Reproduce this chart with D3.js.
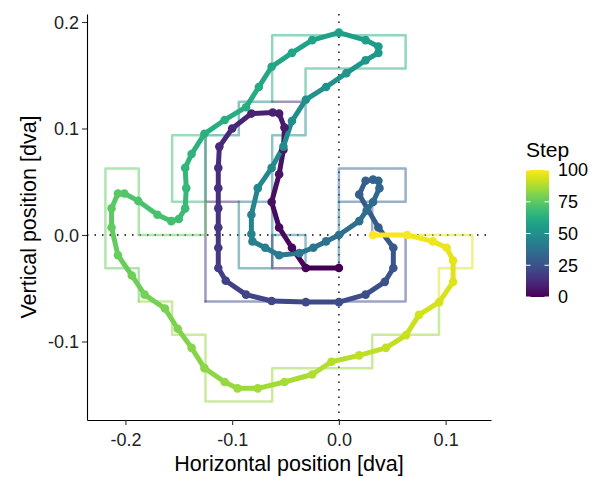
<!DOCTYPE html>
<html>
<head>
<meta charset="utf-8">
<script src="https://cdn.jsdelivr.net/npm/d3@7"></script>
<style>
  body { margin: 0; background: #fff; }
  text { font-family: "Liberation Sans", Arial, sans-serif; }
</style>
</head>
<body>
<div id="chart"></div>
<script>
const width = 603;
const height = 477;

// gaze trajectory, one point per step (dva)
const posX = [
  0.000, -0.031, -0.044, -0.056, -0.063, -0.056, -0.052, -0.051, -0.056, -0.062,
  -0.082, -0.100, -0.112, -0.113, -0.113, -0.113, -0.113, -0.113, -0.113, -0.106,
  -0.087, -0.063, -0.031, 0.000, 0.025, 0.043, 0.051, 0.051, 0.037, 0.019,
  0.025, 0.032, 0.037, 0.038, 0.032, 0.026, 0.019, 0.000, -0.012, -0.024,
  -0.037, -0.056, -0.069, -0.081, -0.082, -0.082, -0.076, -0.063, -0.052, -0.044,
  -0.031, -0.012, 0.007, 0.025, 0.037, 0.037, 0.025, 0.000, -0.025, -0.044,
  -0.063, -0.075, -0.087, -0.107, -0.126, -0.138, -0.144, -0.143, -0.144, -0.150,
  -0.157, -0.170, -0.188, -0.201, -0.207, -0.213, -0.213, -0.207, -0.194, -0.182,
  -0.163, -0.151, -0.138, -0.126, -0.107, -0.095, -0.076, -0.051, -0.025, -0.007,
  0.019, 0.044, 0.063, 0.075, 0.094, 0.107, 0.107, 0.101, 0.088, 0.064,
  0.032
];
const posY = [
  -0.031, -0.031, -0.012, 0.007, 0.031, 0.057, 0.080, 0.101, 0.114, 0.115,
  0.114, 0.100, 0.083, 0.063, 0.044, 0.025, 0.007, -0.012, -0.031, -0.043,
  -0.056, -0.062, -0.063, -0.063, -0.056, -0.044, -0.031, -0.012, 0.007, 0.038,
  0.051, 0.052, 0.051, 0.044, 0.031, 0.023, 0.013, 0.000, -0.006, -0.012,
  -0.017, -0.019, -0.012, -0.006, 0.001, 0.019, 0.044, 0.063, 0.083, 0.107,
  0.127, 0.139, 0.152, 0.164, 0.171, 0.177, 0.183, 0.190, 0.183, 0.171,
  0.158, 0.139, 0.120, 0.108, 0.095, 0.076, 0.063, 0.044, 0.025, 0.015,
  0.013, 0.019, 0.032, 0.039, 0.039, 0.025, 0.007, -0.019, -0.038, -0.056,
  -0.069, -0.088, -0.106, -0.125, -0.138, -0.144, -0.144, -0.138, -0.131, -0.119,
  -0.113, -0.106, -0.094, -0.075, -0.063, -0.044, -0.024, -0.012, -0.006, 0.000,
  0.000
];

// pixel-cell outlines (grid units of 1/32 dva) and the step that colours them
const cellSize = 1 / 32;
const outlineStep = [4, 12, 12, 14, 22, 32, 36, 34, 42, 44, 48, 48, 62, 68, 76, 76, 84, 95];
const outlineCells = [
  [[-2, 0], [-2, -1], [-1, -1]],
  [[-2, 4], [-1, 4]],
  [[-3, 1], [-4, 1]],
  [[-4, 3], [-4, -2]],
  [[-4, -2], [2, -2], [2, 0]],
  [[0, 2], [2, 2], [2, 1], [0, 1], [0, 2]],
  [[0, 1], [0, -1]],
  [[1, 1], [1, 0]],
  [[-3, 1], [-2, 1], [-2, -1], [-3, -1], [-3, 1]],
  [[-2, 0], [-1, 0], [-1, -1]],
  [[-4, 3], [-3, 3], [-3, 4], [-2, 4]],
  [[-1, 4], [-1, 3], [-2, 3], [-2, 1]],
  [[-2, 4], [-2, 6], [2, 6], [2, 5], [-1, 5], [-1, 4]],
  [[-5, 3], [-4, 3], [-4, 1], [-5, 1], [-5, 3]],
  [[-6, 0], [-6, 2], [-7, 2], [-7, -1], [-6, -1], [-6, -2]],
  [[-6, 0], [-4, 0], [-4, 1]],
  [[-6, -2], [-5, -2], [-5, -3], [-4, -3], [-4, -5], [-2, -5], [-2, -4], [1, -4], [1, -3], [3, -3], [3, -2]],
  [[3, -2], [3, -1], [4, -1], [4, 0], [2, 0]]
];

const xTicks = [-0.2, -0.1, 0.0, 0.1];
const yTicks = [-0.1, 0.0, 0.1, 0.2];
const legendTicks = [0, 25, 50, 75, 100];

const points = posX.map((d, i) => ({ x: d, y: posY[i], step: i }));

const x = d3.scaleLinear().domain([-0.236, 0.1425]).range([87, 491]);
const y = d3.scaleLinear().domain([-0.1737, 0.2075]).range([420, 14]);
const color = d3.scaleSequential(d3.interpolateViridis).domain([0, 100]);

const svg = d3.select("#chart")
  .append("svg")
  .attr("width", width)
  .attr("height", height);

// reference lines
svg.append("line")
  .attr("x1", x(0)).attr("x2", x(0))
  .attr("y1", y.range()[1]).attr("y2", y.range()[0])
  .attr("stroke", "#000").attr("stroke-width", 1.4)
  .attr("stroke-dasharray", "1.5,6");
svg.append("line")
  .attr("x1", x.range()[0]).attr("x2", x.range()[1])
  .attr("y1", y(0)).attr("y2", y(0))
  .attr("stroke", "#000").attr("stroke-width", 1.4)
  .attr("stroke-dasharray", "1.5,6");

// cell outlines
const outlineLine = d3.line()
  .x(d => x(d[0] * cellSize))
  .y(d => y(d[1] * cellSize));

svg.append("g")
  .selectAll("path")
  .data(outlineCells)
  .enter()
  .append("path")
  .attr("d", outlineLine)
  .attr("fill", "none")
  .attr("stroke", (d, i) => color(outlineStep[i]))
  .attr("stroke-opacity", 0.5)
  .attr("stroke-width", 2.5)
  .attr("stroke-linejoin", "round")
  .attr("stroke-linecap", "round");

// trajectory
svg.append("g")
  .selectAll("line")
  .data(points.slice(0, -1))
  .enter()
  .append("line")
  .attr("x1", d => x(d.x))
  .attr("y1", d => y(d.y))
  .attr("x2", (d, i) => x(points[i + 1].x))
  .attr("y2", (d, i) => y(points[i + 1].y))
  .attr("stroke", d => color(d.step))
  .attr("stroke-width", 5)
  .attr("stroke-linecap", "round");

svg.append("g")
  .selectAll("circle")
  .data(points)
  .enter()
  .append("circle")
  .attr("cx", d => x(d.x))
  .attr("cy", d => y(d.y))
  .attr("r", 4.3)
  .attr("fill", d => color(d.step));

// axes
const xAxis = svg.append("g")
  .attr("transform", `translate(0, ${y.range()[0]})`)
  .call(d3.axisBottom(x).tickValues(xTicks).tickFormat(d => d.toFixed(1))
    .tickSize(5).tickSizeOuter(0).tickPadding(8));
const yAxis = svg.append("g")
  .attr("transform", `translate(${x.range()[0]}, 0)`)
  .call(d3.axisLeft(y).tickValues(yTicks).tickFormat(d => d.toFixed(1))
    .tickSize(5).tickSizeOuter(0).tickPadding(3));

[xAxis, yAxis].forEach(a => {
  a.select(".domain").attr("stroke", "#000").attr("stroke-width", 1.1);
  a.selectAll(".tick line").attr("stroke", "#333").attr("stroke-width", 1.1);
  a.selectAll(".tick text").attr("fill", "#222").style("font-size", "18px")
    .style("font-family", "'Liberation Sans', Arial, sans-serif");
});
yAxis.selectAll(".tick text").attr("dy", "0.36em");

svg.append("text")
  .attr("x", (x.range()[0] + x.range()[1]) / 2)
  .attr("y", 471)
  .attr("text-anchor", "middle")
  .style("font-size", "21.5px")
  .text("Horizontal position [dva]");

svg.append("text")
  .attr("transform", `translate(36, ${(y.range()[0] + y.range()[1]) / 2}) rotate(-90)`)
  .attr("text-anchor", "middle")
  .style("font-size", "21.5px")
  .text("Vertical position [dva]");

// colour bar legend
const legendScale = d3.scaleLinear().domain([0, 100]).range([297, 170]);
const defs = svg.append("defs");
const grad = defs.append("linearGradient")
  .attr("id", "stepGrad")
  .attr("x1", 0).attr("y1", 1).attr("x2", 0).attr("y2", 0);
d3.range(0, 1.0001, 0.05).forEach(t => {
  grad.append("stop")
    .attr("offset", t)
    .attr("stop-color", d3.interpolateViridis(t));
});

const barX = 526;
const barW = 23;
svg.append("rect")
  .attr("x", barX)
  .attr("y", legendScale(100))
  .attr("width", barW)
  .attr("height", legendScale(0) - legendScale(100))
  .attr("fill", "url(#stepGrad)");

const legendTick = svg.append("g")
  .selectAll("g")
  .data(legendTicks)
  .enter()
  .append("g");
legendTick.append("line")
  .attr("x1", barX).attr("x2", barX + 4.5)
  .attr("y1", d => legendScale(d)).attr("y2", d => legendScale(d))
  .attr("stroke", "#fff").attr("stroke-width", 1);
legendTick.append("line")
  .attr("x1", barX + barW - 4.5).attr("x2", barX + barW)
  .attr("y1", d => legendScale(d)).attr("y2", d => legendScale(d))
  .attr("stroke", "#fff").attr("stroke-width", 1);
legendTick.append("text")
  .attr("x", barX + barW + 9)
  .attr("y", d => legendScale(d))
  .attr("dy", "0.36em")
  .attr("fill", "#000")
  .style("font-size", "18px")
  .text(d => d);

svg.append("text")
  .attr("x", barX)
  .attr("y", 157)
  .style("font-size", "21px")
  .text("Step");
</script>
</body>
</html>
